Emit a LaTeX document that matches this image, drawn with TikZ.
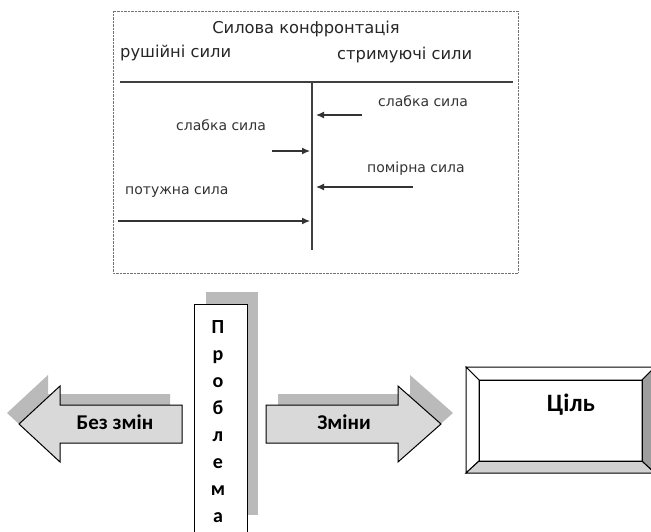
\documentclass[tikz,border=0pt]{standalone}
\usepackage{fontspec}
\setmainfont{Carlito}
\newfontfamily\verd{DejaVu Sans}
\usetikzlibrary{arrows.meta}

\begin{document}
\begin{tikzpicture}[
  x=1pt, y=-1pt, >={Latex[length=8pt,width=7pt]},
  frame/.style={draw=black!55, densely dotted, thin},
  axis/.style={draw=black!75, line width=1.3pt},
  force/.style={->, draw=black!80, line width=1.2pt},
  head/.style={font=\verd\fontsize{16.3}{19}\selectfont, anchor=base west, inner sep=0pt, text=black!85},
  lbl/.style={font=\verd\fontsize{14}{17}\selectfont, anchor=base west, inner sep=0pt, text=black!80},
  blk/.style={fill=black!15, draw=black, line width=1pt},
  shade/.style={fill=black!27, draw=none},
  word/.style={font=\fontsize{21}{24}\selectfont\bfseries, anchor=base, inner sep=0pt},
]
  \useasboundingbox (0,0) rectangle (651,531);

  \draw[frame] (113,11) rectangle (518,273);
  \node[head, anchor=base] (title) at (306,33) {Силова конфронтація};
  \node[head] (drive) at (120,57) {рушійні сили};
  \node[head] (hold) at (337,59) {стримуючі сили};
  \coordinate (hl) at (120,82);
  \coordinate (hr) at (513,82);
  \coordinate (top) at (312,82);
  \coordinate (foot) at (312,250);
  \draw[axis] (hl) -- (hr);
  \draw[axis] (top) -- (foot);

  \node[lbl] (weakR) at (378,106) {слабка сила};
  \node[lbl] (weakL) at (176,130) {слабка сила};
  \node[lbl] (mid) at (367,172) {помірна сила};
  \node[lbl] (strong) at (125,194) {потужна сила};
  \foreach \n/\a/\b/\y in {1/362/316/115, 2/272/310/151, 3/413/316/187, 4/118/310/221} {
    \coordinate (s\n) at (\a,\y);
    \coordinate (e\n) at (\b,\y);
    \draw[force] (s\n) -- (e\n);
  }

  \fill[shade] (206,292) rectangle (258,515);
  \draw[fill=white, line width=1pt] (194,304) rectangle (247,540);
  \foreach \l [count=\i] in {П,р,о,б,л,е,м,а}
    \node[word, font=\fontsize{20}{23}\selectfont\bfseries] (p\i) at (218,{333+27*(\i-1)}) {\l};

  \fill[shade, shift={(-12,-11)}] (182,405) -- (60,405) -- (60,386) -- (19,424) -- (60,462) -- (60,443) -- (182,443) -- cycle;
  \draw[blk] (182,405) -- (60,405) -- (60,386) -- (19,424) -- (60,462) -- (60,443) -- (182,443) -- cycle;
  \node[word] (same) at (115,429) {Без змін};

  \fill[shade, shift={(12,-11)}] (266,405) -- (398,405) -- (398,386) -- (441,424) -- (398,462) -- (398,443) -- (266,443) -- cycle;
  \draw[blk] (266,405) -- (398,405) -- (398,386) -- (441,424) -- (398,462) -- (398,443) -- (266,443) -- cycle;
  \node[word] (change) at (344,429) {Зміни};

  \draw[fill=white, line width=1pt] (466,367) -- (655,367) -- (642,380) -- (479,380) -- cycle;
  \draw[fill=white, line width=1pt] (466,367) -- (479,380) -- (479,461) -- (466,473) -- cycle;
  \draw[fill=black!18, line width=1pt] (466,473) -- (479,461) -- (642,461) -- (655,473) -- cycle;
  \draw[fill=black!38, line width=1pt] (655,367) -- (642,380) -- (642,461) -- (655,473) -- cycle;
  \draw[line width=1pt] (479,380) rectangle (642,461);
  \node[word, font=\fontsize{25}{28}\selectfont\bfseries] (goal) at (571,411) {Ціль};
\end{tikzpicture}
\end{document}
